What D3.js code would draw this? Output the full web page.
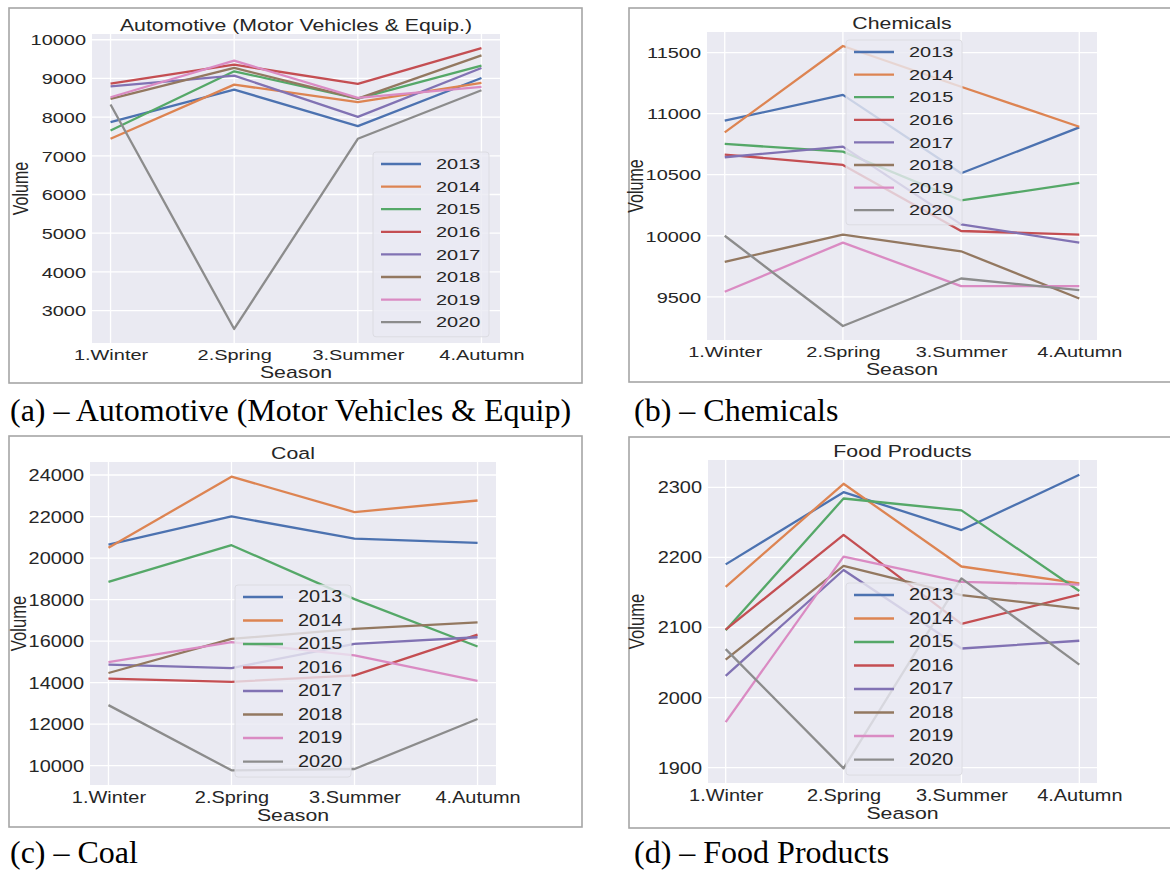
<!DOCTYPE html>
<html>
<head>
<meta charset="utf-8">
<script src="https://cdn.jsdelivr.net/npm/d3@7"></script>
<style>
  body { margin: 0; background: #fff; }
  svg { display: block; }
</style>
</head>
<body>
<svg width="1170" height="870"></svg>
<script>
// seasons on the x axis, one line per year
var seasons = ["1.Winter", "2.Spring", "3.Summer", "4.Autumn"];
var years = ["2013", "2014", "2015", "2016", "2017", "2018", "2019", "2020"];
var colors = ["#4C72B0", "#DD8452", "#55A868", "#C44E52", "#8172B3", "#937860", "#DA8BC3", "#8C8C8C"];

// rows = years, columns = seasons
var automotive = [
  [7870, 8711, 7766, 9012],
  [7440, 8840, 8385, 8883],
  [7655, 9184, 8480, 9330],
  [8866, 9356, 8857, 9785],
  [8797, 9072, 8007, 9270],
  [8471, 9270, 8480, 9596],
  [8514, 9459, 8497, 8780],
  [8325, 2526, 7440, 8694]
];
var chemicals = [
  [10942, 11154, 10512, 10888],
  [10847, 11554, 11220, 10893],
  [10752, 10689, 10289, 10433],
  [10665, 10580, 10039, 10009],
  [10643, 10730, 10093, 9944],
  [9786, 10009, 9873, 9486],
  [9541, 9944, 9587, 9587],
  [10000, 9261, 9650, 9554]
];
var coal = [
  [20651, 22006, 20938, 20730],
  [20491, 23920, 22214, 22772],
  [18848, 20619, 18019, 15738],
  [14191, 14032, 14351, 16313],
  [14861, 14702, 15866, 16185],
  [14462, 16105, 16584, 16903],
  [14989, 15946, 15308, 14080],
  [12915, 9774, 9837, 12246]
];
var food = [
  [2190, 2293, 2239, 2318],
  [2158, 2305, 2187, 2163],
  [2096, 2284, 2267, 2152],
  [2097, 2232, 2105, 2147],
  [2031, 2182, 2070, 2081],
  [2054, 2188, 2146, 2127],
  [1965, 2201, 2165, 2161],
  [2069, 1899, 2170, 2047]
];

var automotiveTicks = [3000, 4000, 5000, 6000, 7000, 8000, 9000, 10000];
var chemicalsTicks = [9500, 10000, 10500, 11000, 11500];
var coalTicks = [10000, 12000, 14000, 16000, 18000, 20000, 22000, 24000];
var foodTicks = [1900, 2000, 2100, 2200, 2300];

var titles = ["Automotive (Motor Vehicles & Equip.)", "Chemicals", "Coal", "Food Products"];
var captions = ["(a) \u2013 Automotive (Motor Vehicles & Equip)", "(b) \u2013 Chemicals", "(c) \u2013 Coal", "(d) \u2013 Food Products"];

var svg = d3.select("svg");

// the figure images are stretched sideways in the page
var sx = 1.33;
var textColor = "#262626";
var font = "'Liberation Sans', Arial, sans-serif";

var panels = [
  { data: automotive, ticks: automotiveTicks, frame: [9, 8, 582, 383], plot: [92, 34, 500, 343], legend: [373, 152], sy: 1, cap: [10, 421] },
  { data: chemicals, ticks: chemicalsTicks, frame: [629, 8, 1175, 382], plot: [707, 32, 1097, 340], legend: [846, 40], sy: 1, cap: [634, 421] },
  { data: coal, ticks: coalTicks, frame: [9, 436, 582, 827], plot: [90, 462, 496, 785], legend: [235, 585], sy: 1.04, cap: [10, 863] },
  { data: food, ticks: foodTicks, frame: [629, 437, 1175, 828], plot: [708, 460, 1097, 783], legend: [846, 583], sy: 1.04, cap: [634, 863] }
];

function stretch(x, y, sy) {
  return "translate(" + x + "," + y + ") scale(" + sx + "," + sy + ")";
}

panels.forEach(function (p, k) {
  var left = p.plot[0], top = p.plot[1], right = p.plot[2], bottom = p.plot[3];
  var sy = p.sy;

  svg.append("rect")
    .attr("x", p.frame[0]).attr("y", p.frame[1])
    .attr("width", p.frame[2] - p.frame[0]).attr("height", p.frame[3] - p.frame[1])
    .attr("fill", "#fff").attr("stroke", "#a6a6a6").attr("stroke-width", 1.6);

  var x = d3.scalePoint().domain(seasons).range([left, right]).padding(0.15);

  var all = d3.merge(p.data);
  var ext = d3.extent(all);
  var pad = (ext[1] - ext[0]) * 0.05;
  var y = d3.scaleLinear().domain([ext[0] - pad, ext[1] + pad]).range([bottom, top]);

  var g = svg.append("g");

  g.append("rect")
    .attr("x", left).attr("y", top)
    .attr("width", right - left).attr("height", bottom - top)
    .attr("fill", "#EAEAF2");

  // grid
  g.append("g").selectAll("line").data(p.ticks).enter().append("line")
    .attr("x1", left).attr("x2", right)
    .attr("y1", function (d) { return y(d); }).attr("y2", function (d) { return y(d); })
    .attr("stroke", "#fff").attr("stroke-width", 1.3);
  g.append("g").selectAll("line").data(seasons).enter().append("line")
    .attr("y1", top).attr("y2", bottom)
    .attr("x1", function (d) { return x(d); }).attr("x2", function (d) { return x(d); })
    .attr("stroke", "#fff").attr("stroke-width", 1.3);

  // axes
  var ya = g.append("g").attr("transform", "translate(" + left + ",0)")
    .call(d3.axisLeft(y).tickValues(p.ticks).tickFormat(d3.format("d")).tickSize(0).tickPadding(0));
  ya.select(".domain").remove();
  ya.selectAll("text")
    .attr("x", 0).attr("dy", "0.35em")
    .attr("transform", stretch(-6, 0, sy))
    .attr("font-family", font)
    .attr("font-size", 15).attr("fill", textColor);

  var xa = g.append("g").attr("transform", "translate(0," + bottom + ")")
    .call(d3.axisBottom(x).tickSize(0).tickPadding(0));
  xa.select(".domain").remove();
  xa.selectAll("text")
    .attr("y", 0).attr("dy", 0)
    .attr("transform", stretch(0, 17 * sy, sy))
    .attr("font-family", font)
    .attr("font-size", 15).attr("fill", textColor);

  // lines
  var line = d3.line()
    .x(function (d, i) { return x(seasons[i]); })
    .y(function (d) { return y(d); });

  g.append("g").selectAll("path").data(p.data).enter().append("path")
    .attr("d", line)
    .attr("fill", "none")
    .attr("stroke", function (d, i) { return colors[i]; })
    .attr("stroke-width", 2.3)
    .attr("stroke-linejoin", "round");

  // labels
  g.append("text")
    .attr("transform", stretch((left + right) / 2, top - 3, sy))
    .attr("text-anchor", "middle").attr("font-family", font)
    .attr("font-size", 16).attr("fill", textColor)
    .text(titles[k]);
  g.append("text")
    .attr("transform", stretch((left + right) / 2, bottom + 35 * sy, sy))
    .attr("text-anchor", "middle").attr("font-family", font)
    .attr("font-size", 16).attr("fill", textColor)
    .text("Season");
  g.append("text")
    .attr("transform", stretch(left - 64, (top + bottom) / 2, sy) + " rotate(-90)")
    .attr("text-anchor", "middle").attr("font-family", font)
    .attr("font-size", 16).attr("fill", textColor)
    .text("Volume");

  // legend
  var step = 22.6 * sy;
  var lx = p.legend[0], ly = p.legend[1];
  var lg = g.append("g");
  lg.append("rect")
    .attr("x", lx).attr("y", ly)
    .attr("width", 116).attr("height", 8 * step + 4)
    .attr("rx", 3)
    .attr("fill", "#EAEAF2").attr("fill-opacity", 0.8)
    .attr("stroke", "#dcdce2").attr("stroke-width", 1);
  var item = lg.selectAll(".item").data(years).enter().append("g")
    .attr("class", "item")
    .attr("transform", function (d, i) { return "translate(0," + (ly + 12 + i * step) + ")"; });
  item.append("line")
    .attr("x1", lx + 8).attr("x2", lx + 48)
    .attr("stroke", function (d, i) { return colors[i]; })
    .attr("stroke-width", 2.3);
  item.append("text")
    .attr("transform", stretch(lx + 63, 0, sy))
    .attr("dy", "0.35em").attr("font-family", font)
    .attr("font-size", 15).attr("fill", textColor)
    .text(function (d) { return d; });

  // caption under the figure
  svg.append("text")
    .attr("x", p.cap[0]).attr("y", p.cap[1])
    .attr("font-family", "'Liberation Serif', 'Times New Roman', serif")
    .attr("font-size", 32).attr("fill", "#000")
    .text(captions[k]);
});
</script>
</body>
</html>
